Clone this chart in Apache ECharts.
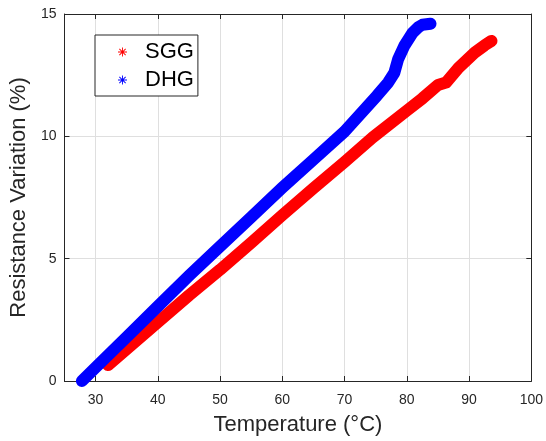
<!DOCTYPE html>
<html>
<head>
<meta charset="utf-8">
<script src="https://cdn.jsdelivr.net/npm/echarts@6/dist/echarts.min.js"></script>
<style>
  html, body { margin: 0; padding: 0; background: #fff; }
  #chart { width: 546px; height: 441px; }
</style>
</head>
<body>
<div id="chart"></div>
<script>
// ---- data ----
var seriesNames = ['SGG', 'DHG'];
var sggTemp = [32.0, 36.0, 40.0, 45.0, 50.0, 55.0, 60.0, 65.0, 70.0, 74.5, 80.0, 82.5, 85.0, 86.3, 88.3, 90.9, 92.5, 93.6];
var sggRes  = [0.65, 1.52, 2.40, 3.50, 4.55, 5.65, 6.78, 7.88, 8.95, 9.95, 11.05, 11.55, 12.10, 12.20, 12.80, 13.42, 13.72, 13.9];
var dhgTemp = [27.8, 30.0, 35.0, 40.0, 45.0, 50.0, 55.0, 60.0, 65.0, 70.0, 75.2, 77.0, 78.0, 78.6, 79.6, 80.9, 81.8, 82.5, 83.8];
var dhgRes  = [0.0, 0.55, 1.80, 3.05, 4.30, 5.50, 6.70, 7.90, 9.05, 10.20, 11.66, 12.20, 12.60, 13.15, 13.70, 14.22, 14.45, 14.56, 14.60];
var xTicks = [30, 40, 50, 60, 70, 80, 90, 100];
var xMin = 25, xMax = 100;
var yMin = 0, yMax = 15, yStep = 5;
var xTitle = 'Temperature (°C)';
var yTitle = 'Resistance Variation (%)';

function pairs(xs, ys) {
  var out = [];
  for (var i = 0; i < xs.length; i++) out.push([xs[i], ys[i]]);
  return out;
}

var asterisk = 'path://M45 0L55 0L55 100L45 100Z M0 45L100 45L100 55L0 55Z M11.5 18.5L18.5 11.5L88.5 81.5L81.5 88.5Z M81.5 11.5L88.5 18.5L18.5 88.5L11.5 81.5Z';
var FONT = 'Liberation Sans, Arial, Helvetica, sans-serif';
var AX = '#262626';
var GRID = '#dfdfdf';

var chart = echarts.init(document.getElementById('chart'));
chart.setOption({
  animation: false,
  backgroundColor: '#ffffff',
  textStyle: { fontFamily: FONT },
  grid: { left: 59, right: 12, top: 14, bottom: 56, containLabel: false },
  legend: {
    orient: 'vertical',
    left: 95, top: 35,
    padding: [6, 4, 5, 23],
    itemGap: 6,
    itemWidth: 35, itemHeight: 9,
    borderColor: AX, borderWidth: 1,
    backgroundColor: '#ffffff',
    textStyle: { fontSize: 22, color: '#000', fontFamily: FONT },
    data: [
      { name: seriesNames[0], icon: asterisk, itemStyle: { color: '#ff0000', borderWidth: 0 } },
      { name: seriesNames[1], icon: asterisk, itemStyle: { color: '#0000ff', borderWidth: 0 } }
    ]
  },
  xAxis: [{
    type: 'value', min: xMin, max: xMax, position: 'bottom',
    name: xTitle, nameLocation: 'middle', nameGap: 33,
    nameTextStyle: { fontSize: 22, color: AX, fontFamily: FONT },
    axisLine: { show: true, onZero: false, lineStyle: { color: AX, width: 1 } },
    axisTick: { show: true, inside: true, length: 5, customValues: xTicks, lineStyle: { color: AX } },
    axisLabel: { show: true, customValues: xTicks, margin: 12, fontSize: 14, color: AX, fontFamily: FONT },
    splitLine: { show: true, lineStyle: { color: GRID, width: 1 } }
  }, {
    type: 'value', min: xMin, max: xMax, position: 'top',
    axisLine: { show: true, onZero: false, lineStyle: { color: AX, width: 1 } },
    axisTick: { show: true, inside: true, length: 5, customValues: xTicks, lineStyle: { color: AX } },
    axisLabel: { show: false },
    splitLine: { show: false }
  }],
  yAxis: [{
    type: 'value', min: yMin, max: yMax, interval: yStep, position: 'left',
    name: yTitle, nameLocation: 'middle', nameGap: 24,
    nameTextStyle: { fontSize: 22, color: AX, fontFamily: FONT },
    axisLine: { show: true, onZero: false, lineStyle: { color: AX, width: 1 } },
    axisTick: { show: true, inside: true, length: 5, lineStyle: { color: AX } },
    axisLabel: { show: true, margin: 8, fontSize: 14, color: AX, fontFamily: FONT },
    splitLine: { show: true, lineStyle: { color: GRID, width: 1 } }
  }, {
    type: 'value', min: yMin, max: yMax, interval: yStep, position: 'right',
    axisLine: { show: true, onZero: false, lineStyle: { color: AX, width: 1 } },
    axisTick: { show: true, inside: true, length: 5, lineStyle: { color: AX } },
    axisLabel: { show: false },
    splitLine: { show: false }
  }],
  series: [{
    name: seriesNames[0], type: 'line',
    xAxisIndex: 0, yAxisIndex: 0,
    data: pairs(sggTemp, sggRes),
    showSymbol: false, symbol: 'none',
    color: '#ff0000',
    lineStyle: { color: '#ff0000', width: 12, cap: 'round', join: 'round' },
    z: 2
  }, {
    name: seriesNames[1], type: 'line',
    xAxisIndex: 0, yAxisIndex: 0,
    data: pairs(dhgTemp, dhgRes),
    showSymbol: false, symbol: 'none',
    color: '#0000ff',
    lineStyle: { color: '#0000ff', width: 12, cap: 'round', join: 'round' },
    z: 3
  }]
});
</script>
</body>
</html>
